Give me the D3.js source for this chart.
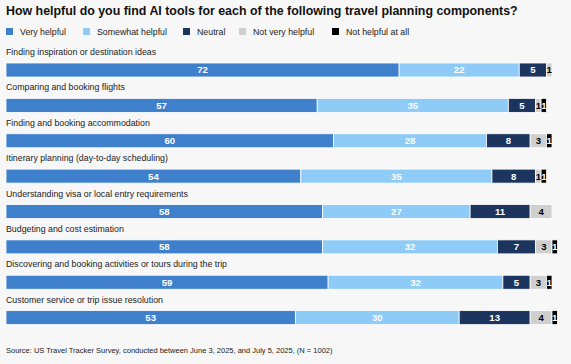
<!DOCTYPE html>
<html>
<head>
<meta charset="utf-8">
<script src="https://cdn.jsdelivr.net/npm/d3@7"></script>
<style>
  body { margin: 0; background: #f7f7f7; }
  svg { display: block; font-family: "Liberation Sans", Arial, sans-serif; }
</style>
</head>
<body>
<div id="chart"></div>
<script>
const categories = [
  'Finding inspiration or destination ideas',
  'Comparing and booking flights',
  'Finding and booking accommodation',
  'Itinerary planning (day-to-day scheduling)',
  'Understanding visa or local entry requirements',
  'Budgeting and cost estimation',
  'Discovering and booking activities or tours during the trip',
  'Customer service or trip issue resolution'
];
const seriesNames = ['Very helpful', 'Somewhat helpful', 'Neutral', 'Not very helpful', 'Not helpful at all'];
const veryHelpful = [72, 57, 60, 54, 58, 58, 59, 53];
const somewhatHelpful = [22, 35, 28, 35, 27, 32, 32, 30];
const neutral = [5, 5, 8, 8, 11, 7, 5, 13];
const notVeryHelpful = [1, 1, 3, 1, 4, 3, 3, 4];
const notHelpfulAtAll = [0, 1, 1, 1, 0, 1, 1, 1];
const colors = ['#3f80cd', '#8ecbf6', '#1c355e', '#cfcfcf', '#000000'];
const textColors = ['#fff', '#fff', '#fff', '#000', '#fff'];

const width = 571, height = 364;
const svg = d3.select('#chart').append('svg')
  .attr('width', width).attr('height', height);

svg.append('text')
  .attr('x', 6).attr('y', 15)
  .attr('font-size', 12.4).attr('font-weight', 'bold').attr('fill', '#111')
  .text('How helpful do you find AI tools for each of the following travel planning components?');

// legend
const legendX = [6, 83, 183, 239, 332];
const legend = svg.append('g').selectAll('g').data(seriesNames).enter().append('g')
  .attr('transform', (d, i) => `translate(${legendX[i]},28)`);
legend.append('rect').attr('width', 7).attr('height', 7).attr('fill', (d, i) => colors[i]);
legend.append('text').attr('x', 14).attr('y', 7).attr('font-size', 8.8).attr('fill', '#222').text(d => d);

const rows = categories.map((c, i) => {
  const vals = [veryHelpful[i], somewhatHelpful[i], neutral[i], notVeryHelpful[i], notHelpfulAtAll[i]];
  let acc = 0;
  return {
    name: c,
    segs: vals.map((v, k) => { const s = { k, v, x0: acc, x1: acc + v }; acc += v; return s; })
  };
});

const x = d3.scaleLinear().domain([0, 100]).range([6, 552]);
const y = d3.scaleBand().domain(categories).range([45, 328]).paddingInner(0).paddingOuter(0);
const barH = 14;

const row = svg.append('g').selectAll('g').data(rows).enter().append('g')
  .attr('transform', d => `translate(0,${y(d.name)})`);

row.append('text')
  .attr('x', 6).attr('y', 10)
  .attr('font-size', 8.8).attr('fill', '#222')
  .text(d => d.name);

const seg = row.selectAll('g.seg').data(d => d.segs.filter(s => s.v > 0)).enter().append('g').attr('class', 'seg');
seg.append('rect')
  .attr('x', d => x(d.x0)).attr('y', 18)
  .attr('width', d => x(d.x1) - x(d.x0)).attr('height', barH)
  .attr('fill', d => colors[d.k])
  .attr('stroke', '#fff').attr('stroke-width', 0.8);
seg.append('text')
  .attr('x', d => (x(d.x0) + x(d.x1)) / 2).attr('y', 18 + barH / 2 + 3.4)
  .attr('text-anchor', 'middle')
  .attr('font-size', 9.6).attr('font-weight', 'bold')
  .attr('fill', d => textColors[d.k])
  .text(d => d.v);

svg.append('text')
  .attr('x', 6).attr('y', 353)
  .attr('font-size', 7.5).attr('fill', '#222')
  .text('Source: US Travel Tracker Survey, conducted between June 3, 2025, and July 5, 2025, (N = 1002)');
</script>
</body>
</html>
